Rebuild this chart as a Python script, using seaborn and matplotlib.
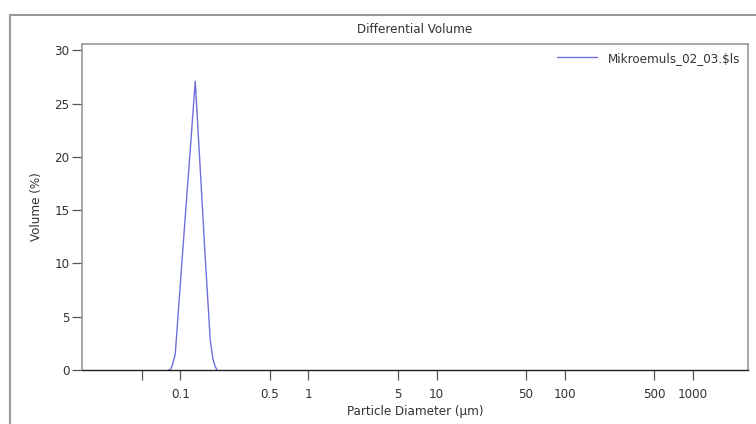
import pandas as pd
import seaborn as sns
import matplotlib.pyplot as plt
from matplotlib.lines import Line2D

# Particle size distribution
diameter_um = [0.0806, 0.0835, 0.0866, 0.0914, 0.1, 0.1094, 0.1197, 0.1309,
               0.1433, 0.1567, 0.1714, 0.1800, 0.1876, 0.194]
volume_pct = [0.0, 0.0, 0.4, 1.5, 8.0, 14.4, 20.7, 27.1,
              18.8, 10.5, 2.8, 1.0, 0.3, 0.0]
tick_values = [0.05, 0.1, 0.5, 1, 5, 10, 50, 100, 500, 1000]
tick_labels = ['', '0.1', '0.5', '1', '5', '10', '50', '100', '500', '1000']
series_name = 'Mikroemuls_02_03.$ls'

df = pd.DataFrame({'d': diameter_um, 'v': volume_pct, 'file': series_name})

sns.set_style('ticks')
plt.rcParams['font.family'] = ['DejaVu Sans']
plt.rcParams['font.stretch'] = 'condensed'

fig = plt.figure(figsize=(7.56, 4.24), dpi=100)
ax = fig.add_axes([82 / 756, 1 - 370 / 424, (748 - 82) / 756, (370 - 44) / 424])

sns.lineplot(data=df, x='d', y='v', hue='file', palette=['#7070dc'],
             linewidth=1.0, ax=ax, legend=False)

ax.set_xscale('log')
ax.set_xlim(0.0171, 2700)
ax.set_ylim(0, 30.6)
ax.set_xticks(tick_values)
ax.set_xticklabels(tick_labels)
ax.xaxis.set_minor_locator(plt.NullLocator())
ax.set_yticks([0, 5, 10, 15, 20, 25, 30])

ax.tick_params(axis='both', which='major', direction='out', length=7, width=0.9,
               labelsize=9.5, colors='#555555', labelcolor='#333333', pad=2,
               bottom=True, left=True, top=False, right=False)
ax.tick_params(axis='x', pad=6)

for side in ['left', 'top', 'right']:
    ax.spines[side].set_visible(True)
    ax.spines[side].set_color('#999999')
    ax.spines[side].set_linewidth(1.2)
ax.spines['bottom'].set_color('#222222')
ax.spines['bottom'].set_linewidth(1.0)

ax.set_title('Differential Volume', fontsize=9.5, color='#333333', pad=8)
ax.set_xlabel('Particle Diameter (µm)', fontsize=9.5, color='#333333', labelpad=3)
ax.set_ylabel('Volume (%)', fontsize=9.5, color='#333333', labelpad=8)

handle = Line2D([], [], color='#7070dc', linewidth=1.0)
ax.legend([handle], [series_name], loc='upper right', frameon=False,
          fontsize=9.5, handlelength=3, borderaxespad=0.2, labelcolor='#333333')

# outer frame lines of the exported report
fig.add_artist(Line2D([10 / 756, 1.0], [1 - 15 / 424, 1 - 15 / 424],
                      transform=fig.transFigure, color='#999999', linewidth=1.5))
fig.add_artist(Line2D([10 / 756, 10 / 756], [0, 1 - 15 / 424],
                      transform=fig.transFigure, color='#999999', linewidth=1.5))

fig.savefig('out.png', dpi=100)
